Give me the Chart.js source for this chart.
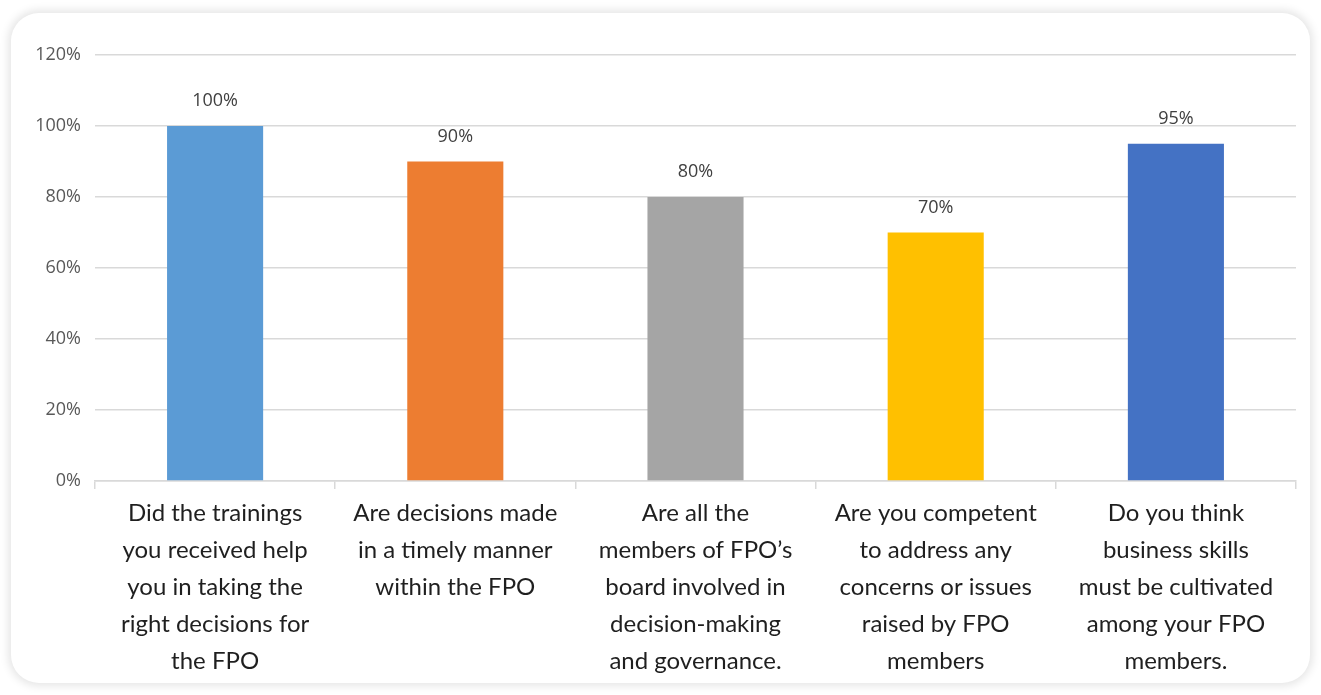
<!DOCTYPE html>
<html>
<head>
<meta charset="utf-8">
<script src="https://cdn.jsdelivr.net/npm/chart.js@4.4.1/dist/chart.umd.min.js"></script>
<style>
  html, body { margin: 0; padding: 0; background: #ffffff; }
  body { width: 1321px; height: 695px; position: relative; overflow: hidden; }
  .card {
    position: absolute; left: 11px; top: 13px; width: 1299px; height: 670px;
    background: #ffffff; border-radius: 28px;
    box-shadow: 0 0 8px 3px rgba(0,0,0,0.10);
  }
  #chart { position: absolute; left: 0; top: 0; }
</style>
</head>
<body>
<div class="card"></div>
<canvas id="chart" width="1321" height="695"></canvas>
<script>
// Survey questions (wrapped into lines) and share of "yes" responses
const questions = [
  ["Did the trainings", "you received help", "you in taking the", "right decisions for", "the FPO"],
  ["Are decisions made", "in a timely manner", "within the FPO"],
  ["Are all the", "members of FPO\u2019s", "board involved in", "decision-making", "and governance."],
  ["Are you competent", "to address any", "concerns or issues", "raised by FPO", "members"],
  ["Do you think", "business skills", "must be cultivated", "among your FPO", "members."]
];
const shares = [1.00, 0.90, 0.80, 0.70, 0.95];
const barColors = ["#5B9BD5", "#ED7D31", "#A5A5A5", "#FFC000", "#4472C4"];
const yTicks = [0, 0.2, 0.4, 0.6, 0.8, 1.0, 1.2];

const pct = v => Math.round(v * 100) + "%";

// Writes each bar's percentage just above it
const valueLabels = {
  id: "valueLabels",
  afterDatasetsDraw(chart) {
    const ctx = chart.ctx;
    const meta = chart.getDatasetMeta(0);
    ctx.save();
    ctx.font = "18px 'Open Sans'";
    ctx.fillStyle = "#404040";
    ctx.textAlign = "center";
    ctx.textBaseline = "middle";
    meta.data.forEach((bar, i) => {
      ctx.fillText(pct(shares[i]), bar.x, bar.y - 25);
    });
    ctx.restore();
  }
};

new Chart(document.getElementById("chart"), {
  type: "bar",
  data: {
    labels: questions,
    datasets: [{
      data: shares,
      backgroundColor: barColors,
      borderWidth: 0,
      categoryPercentage: 0.4,
      barPercentage: 1.0
    }]
  },
  options: {
    responsive: false,
    animation: false,
    layout: { padding: { top: 55, right: 25, left: 0, bottom: 0 } },
    plugins: { legend: { display: false }, tooltip: { enabled: false } },
    scales: {
      x: {
        grid: { offset: true, drawOnChartArea: false, drawTicks: true, tickLength: 8, color: "#d9d9d9", lineWidth: 1.5 },
        border: { color: "#d9d9d9", width: 1.5 },
        ticks: {
          color: "#1f1f1f",
          font: { family: "Lato", size: 24, lineHeight: 1.54 },
          padding: 6,
          maxRotation: 0,
          autoSkip: false
        },
        afterFit(scale) { scale.height = 214; }
      },
      y: {
        min: 0, max: 1.2,
        afterBuildTicks(scale) { scale.ticks = yTicks.map(v => ({ value: v })); },
        grid: { color: "#d9d9d9", lineWidth: 1.5, drawTicks: false },
        border: { display: false },
        ticks: {
          color: "#595959",
          font: { family: "Open Sans", size: 18 },
          padding: 14,
          callback: v => pct(v)
        },
        afterFit(scale) { scale.width = 95; }
      }
    }
  },
  plugins: [valueLabels]
});
</script>
</body>
</html>
